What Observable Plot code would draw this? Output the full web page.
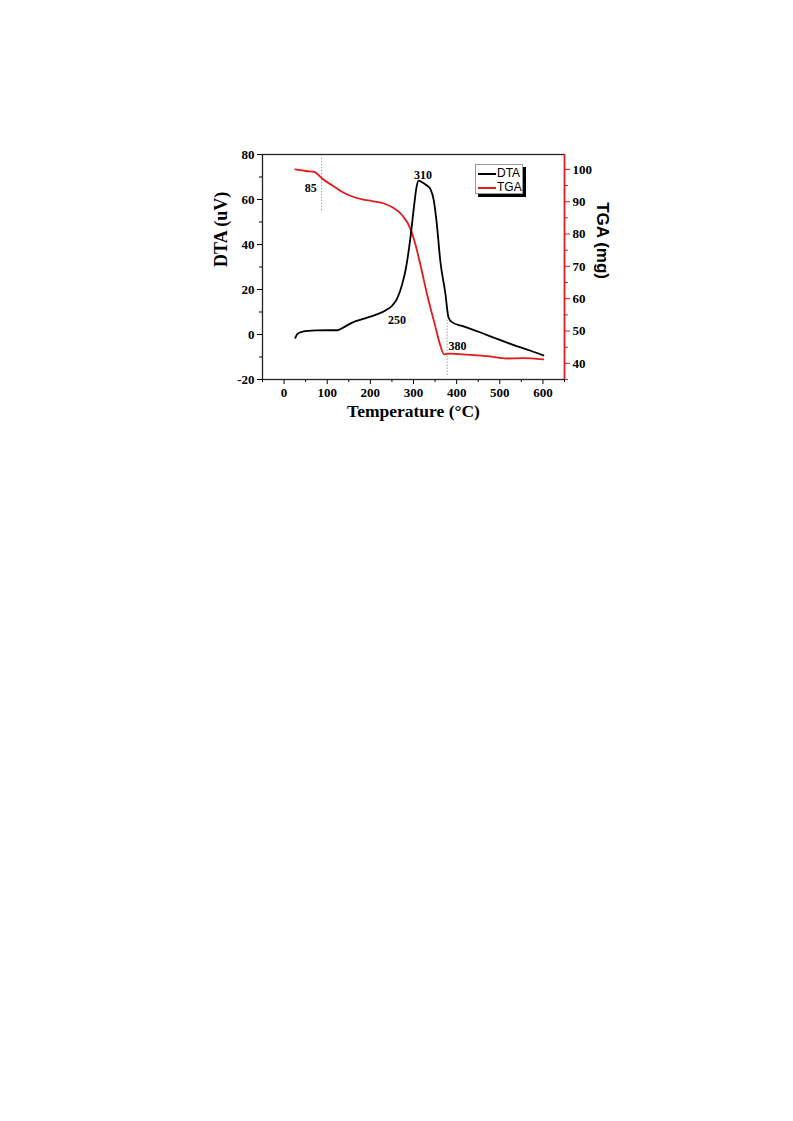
<!DOCTYPE html>
<html>
<head>
<meta charset="utf-8">
<script src="https://cdn.jsdelivr.net/npm/d3@7"></script>
<script src="https://cdn.jsdelivr.net/npm/@observablehq/plot@0.6"></script>
<style>
  html, body { margin: 0; padding: 0; background: white; }
  #wrap { position: relative; width: 793px; height: 1121px; }
  #legend { position: absolute; left: 475px; top: 164px; width: 48px; height: 30px;
    border: 1px solid #999; background: white; box-shadow: 3px 3px 0 #000;
    font-family: "Liberation Sans", Arial, sans-serif; font-size: 12px; box-sizing: border-box; }
  #legend .row { position: absolute; left: 2px; height: 14px; line-height: 14px; }
  #legend .sw { display: inline-block; width: 18px; height: 0; vertical-align: middle; margin-right: 1px; }
</style>
</head>
<body>
<div id="wrap">
  <div id="chart"></div>
  <div id="legend">
    <div class="row" style="top:1px"><span class="sw" style="border-top:2px solid #000"></span>DTA</div>
    <div class="row" style="top:15px"><span class="sw" style="border-top:2px solid #e31a1c"></span>TGA</div>
  </div>
</div>
<script>
// ---- Data ----
const dtaTemp = [26, 31, 43, 74, 101, 124, 139, 158, 181, 212, 235, 251, 262, 274, 282, 293, 301, 307, 312, 320, 331, 339, 347, 354, 362, 374, 381, 389, 416, 454, 493, 531, 570, 601];
const dtaVal  = [-1.5, 0.3, 1.3, 1.8, 1.9, 1.9, 3.3, 5.3, 6.8, 8.7, 10.7, 12.9, 15.9, 22.5, 29, 43.2, 56.6, 65.5, 68.4, 67.7, 66.2, 64.7, 59.6, 49.2, 32.9, 18, 7.7, 5.5, 3.6, 1.0, -1.9, -4.6, -7.1, -9.3];

const tgaTemp = [26, 51, 70, 81, 89, 112, 135, 158, 181, 204, 228, 251, 274, 293, 304, 316, 331, 351, 362, 371, 385, 424, 470, 516, 554, 601];
const tgaVal  = [100, 99.5, 99.2, 98.1, 97.1, 95, 93, 91.6, 90.7, 90.2, 89.6, 88.3, 85.8, 81.6, 77, 70.5, 61.6, 51.2, 45.6, 42.8, 43, 42.7, 42.2, 41.5, 41.6, 41.2];

const xTicks = [0, 100, 200, 300, 400, 500, 600];
const xMinor = [-50, 50, 150, 250, 350, 450, 550, 650];
const dtaTicks = [-20, 0, 20, 40, 60, 80];
const dtaMinor = [-10, 10, 30, 50, 70];
const tgaTicks = [40, 50, 60, 70, 80, 90, 100];
const tgaMinor = [35, 45, 55, 65, 75, 85, 95];

// Marked temperatures: line x, line span in DTA units
const markLines = [
  {x: 87, y1: 55, y2: 79},
  {x: 378, y1: -18.2, y2: 6.2}
];
const annotations = [
  {label: "85",  x: 62,  y: 65},
  {label: "310", x: 322, y: 71},
  {label: "250", x: 262, y: 6.5},
  {label: "380", x: 402, y: -5.3}
];

// ---- Build ----
const tgaToDta = d3.scaleLinear([35, 104.6], [-20, 80]);
const dta = dtaTemp.map((t, i) => ({t, v: dtaVal[i]}));
const tga = tgaTemp.map((t, i) => ({t, v: tgaToDta(tgaVal[i])}));

const red = "#e31a1c";
const blank = () => "";
const chart = Plot.plot({
  width: 793,
  height: 440,
  marginLeft: 262,
  marginRight: 229,
  marginTop: 154,
  marginBottom: 61,
  style: {fontFamily: "Liberation Serif, serif", fontSize: "13px", fontWeight: "bold", color: "black", background: "white"},
  x: {domain: [-50, 650]},
  y: {domain: [-20, 80]},
  marks: [
    Plot.axisX(xTicks, {tickSize: 5, tickPadding: 3, label: null, tickFormat: d => d}),
    Plot.axisX(xMinor, {tickSize: 3, tickFormat: blank, label: null}),
    Plot.axisY(dtaTicks, {anchor: "left", tickSize: 5, tickPadding: 3, label: null, tickFormat: d => d}),
    Plot.axisY(dtaMinor, {anchor: "left", tickSize: 3, tickFormat: blank, label: null}),
    Plot.axisY(tgaTicks.map(tgaToDta), {anchor: "right", tickSize: 5, tickPadding: 3, label: null, stroke: red, fill: "black",
      tickFormat: d => Math.round(tgaToDta.invert(d))}),
    Plot.axisY(tgaMinor.map(tgaToDta), {anchor: "right", tickSize: 3, tickFormat: blank, label: null, stroke: red}),
    Plot.frame({stroke: "#222", strokeWidth: 1.3}),
    Plot.ruleX([650], {stroke: red, strokeWidth: 1.5}),
    Plot.ruleX(markLines, {x: "x", y1: "y1", y2: "y2", stroke: "#888", strokeWidth: 0.8, strokeDasharray: "1.5,1.5"}),
    Plot.line(tga, {x: "t", y: "v", stroke: red, strokeWidth: 1.8, curve: "monotone-x"}),
    Plot.line(dta, {x: "t", y: "v", stroke: "black", strokeWidth: 1.8, curve: "monotone-x"}),
    Plot.text(annotations, {x: "x", y: "y", text: "label", fontSize: 12, fontWeight: "bold", fill: "black"}),
    Plot.text(["DTA (uV)"], {frameAnchor: "left", dx: -41, dy: 0, rotate: -90, fontSize: 18, fontWeight: "bold"}),
    Plot.text(["TGA (mg)"], {frameAnchor: "right", dx: 38, dy: 12, rotate: 90, fontSize: 17, fontWeight: "bold", fontFamily: "Liberation Sans, Arial, sans-serif"}),
    Plot.text(["Temperature (°C)"], {frameAnchor: "bottom", dy: 37, fontSize: 17.5, fontWeight: "bold"})
  ]
});
document.getElementById("chart").appendChild(chart);
</script>
</body>
</html>
